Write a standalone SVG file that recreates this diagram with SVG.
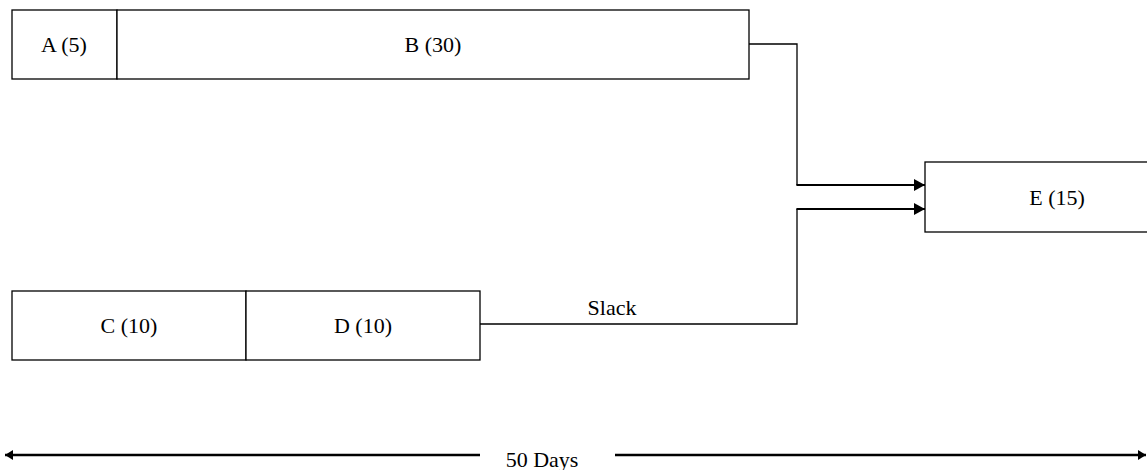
<svg xmlns="http://www.w3.org/2000/svg" width="1147" height="470" viewBox="0 0 1147 470">
<style>
.box{fill:#fff;stroke:#000;stroke-width:1.3}
.t{font-family:"Liberation Serif","Times New Roman",serif;font-size:22px;fill:#000;text-anchor:middle}
.c{fill:none;stroke:#000;stroke-width:1.3}
.h{fill:none;stroke:#000;stroke-width:2}
.a{fill:none;stroke:#000;stroke-width:2.3}
</style>
<defs>
<marker id="ah" markerWidth="11" markerHeight="12" refX="11" refY="6" orient="auto" markerUnits="userSpaceOnUse">
<path d="M0,0 L11,6 L0,12 Z" fill="#000"/>
</marker>
<marker id="ah2" markerWidth="8" markerHeight="10" refX="8" refY="5" orient="auto-start-reverse" markerUnits="userSpaceOnUse">
<path d="M0,0 L8,5 L0,10 Z" fill="#000"/>
</marker>
</defs>
<g id="connectors">
<polyline class="c" points="749,44 797,44 797,185"/>
<line class="h" x1="796.4" y1="185" x2="925" y2="185" marker-end="url(#ah)"/>
<polyline class="c" points="480,324 797,324 797,209"/>
<line class="h" x1="796.4" y1="209" x2="925" y2="209" marker-end="url(#ah)"/>
<text class="t" x="612" y="315">Slack</text>
<line class="a" x1="5" y1="455" x2="480" y2="455" marker-start="url(#ah2)"/>
<line class="a" x1="615" y1="455" x2="1146" y2="455" marker-end="url(#ah2)"/>
<text class="t" x="542" y="467">50 Days</text>
</g>
<g id="nodeA">
<rect class="box" x="12" y="10" width="105" height="69"/>
<text class="t" x="64" y="52">A (5)</text>
</g>
<g id="nodeB">
<rect class="box" x="117" y="10" width="632" height="69"/>
<text class="t" x="433" y="52">B (30)</text>
</g>
<g id="nodeE">
<rect class="box" x="925" y="162" width="224" height="70"/>
<text class="t" x="1057" y="205">E (15)</text>
</g>
<g id="nodeC">
<rect class="box" x="12" y="291" width="234" height="69"/>
<text class="t" x="129" y="333">C (10)</text>
</g>
<g id="nodeD">
<rect class="box" x="246" y="291" width="234" height="69"/>
<text class="t" x="363" y="333">D (10)</text>
</g>
</svg>
